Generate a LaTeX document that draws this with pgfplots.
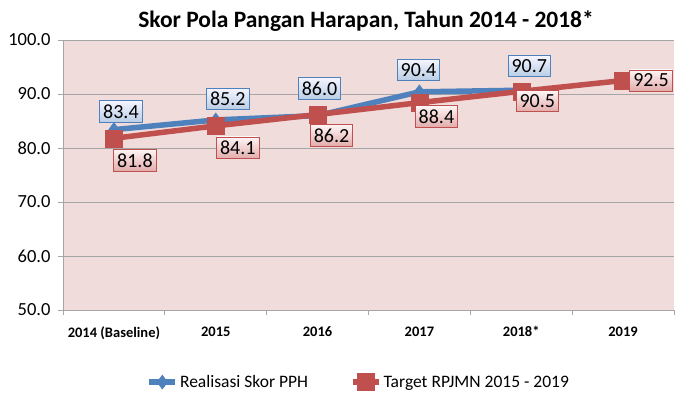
\documentclass[border=0pt]{standalone}
\usepackage{fontspec}
\setmainfont{Carlito}
\usepackage{pgfplots}
\usepackage{pgfplotstable}
\pgfplotsset{compat=1.18}
\definecolor{pblue}{HTML}{4F81BD}
\definecolor{pred}{HTML}{C0504D}
\definecolor{bgpink}{HTML}{F0DCDB}
\definecolor{gridc}{HTML}{A6A6A6}
\pgfplotstableread{
x y dx dy
0 83.4 7 18
1 85.2 12 21
2 86.0 2 27
3 90.4 -1 22
4 90.7 8 24
}\realisasi
\pgfplotstableread{
x y dx dy
0 81.8 21 -22
1 84.1 22 -22
2 86.2 14 -21
3 88.4 17 -14
4 90.5 16 -10
5 92.5 28 0
}\target
\begin{document}
\begin{tikzpicture}
\useasboundingbox (0,0) rectangle (681bp,399bp);
\node[font=\fontsize{23.5bp}{26bp}\selectfont\bfseries] at (366bp,378bp) {Skor Pola Pangan Harapan, Tahun 2014 - 2018*};
\begin{axis}[
  at={(63bp,89bp)}, anchor=south west,
  scale only axis, width=611bp, height=270bp,
  xmin=-0.5, xmax=5.5, ymin=50, ymax=100,
  xtick={0,...,5},
  xticklabels={2014 (Baseline),2015,2016,2017,2018*,2019},
  minor xtick={-0.5,0.5,...,5.5},
  ytick={50,60,...,100},
  axis x line*=bottom, axis y line*=left,
  axis line style={gridc, line width=0.8bp},
  tick align=outside,
  major x tick style={draw=none},
  minor x tick style={gridc, line width=0.8bp},
  minor tick length=5bp,
  y tick style={gridc, line width=0.8bp},
  major tick length=5bp,
  ymajorgrids, grid style={gridc, line width=0.8bp},
  axis background/.style={fill=bgpink},
  /pgf/number format/assume math mode=true,
  y tick label style={/pgf/number format/fixed, /pgf/number format/fixed zerofill, /pgf/number format/precision=1},
  yticklabel style={font=\fontsize{18.5bp}{20bp}\selectfont, xshift=-4bp},
  xticklabel style={font=\fontsize{14.5bp}{16bp}\selectfont\bfseries, yshift=-8bp},
  clip=false,
  legend columns=2,
  legend style={draw=none, fill=none, at={(axis description cs:0.484,-0.267)}, anchor=center,
    font=\fontsize{17.5bp}{19bp}\selectfont,
    /tikz/every even column/.append style={column sep=40bp}},
  legend image code/.code={\draw[#1, mark repeat=2, mark phase=2] plot coordinates {(0bp,0bp) (13bp,0bp) (26bp,0bp)};},
  nodes near coords={\pgfmathprintnumber[fixed,fixed zerofill,precision=1]{\pgfplotspointmeta}},
  visualization depends on={\thisrow{dx} \as \dx},
  visualization depends on={\thisrow{dy} \as \dy},
]
\addplot[color=pblue, line width=5.5bp, mark=diamond*, mark size=7bp, mark options={line width=0.5bp},
  nodes near coords style={anchor=center, xshift=\dx bp, yshift=\dy bp, draw=pblue, line width=0.8bp,
    top color=blue!4!white, bottom color=pblue!40!white, inner xsep=3.5bp, inner ysep=4bp,
    font=\fontsize{20bp}{21bp}\selectfont, text=black}]
  table[x=x, y=y] {\realisasi};
\addlegendentry{Realisasi Skor PPH}
\addplot[color=pred, line width=5.5bp, mark=square*, mark size=8.5bp, mark options={line width=0.5bp},
  nodes near coords style={anchor=center, xshift=\dx bp, yshift=\dy bp, draw=pred, line width=0.8bp,
    top color=red!4!white, bottom color=pred!48!white, inner xsep=3.5bp, inner ysep=4bp,
    font=\fontsize{20bp}{21bp}\selectfont, text=black}]
  table[x=x, y=y] {\target};
\addlegendentry{Target RPJMN 2015 - 2019}
\end{axis}
\end{tikzpicture}
\end{document}
